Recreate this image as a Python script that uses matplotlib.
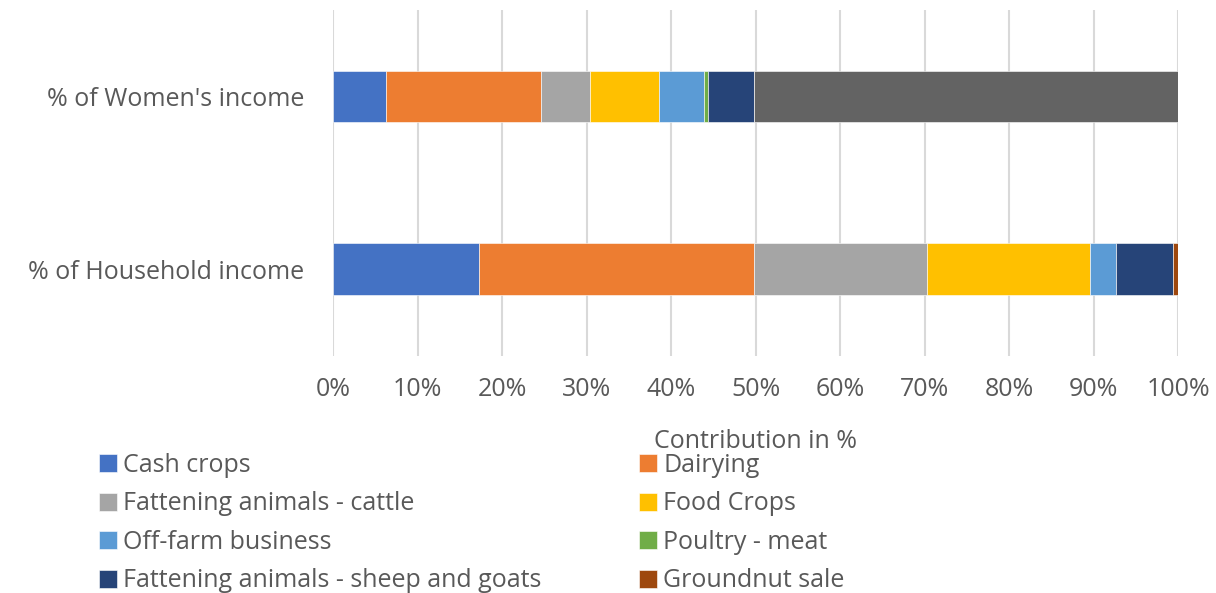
import numpy as np
import matplotlib.pyplot as plt
from matplotlib.ticker import PercentFormatter

plt.rcParams['font.family'] = ['Open Sans', 'DejaVu Sans']

# === Data (percent contribution) ===
groups = ["% of Household income", "% of Women's income"]
series = ["Cash crops", "Dairying", "Fattening animals - cattle", "Food Crops",
          "Off-farm business", "Poultry - meat", "Fattening animals - sheep and goats",
          "Groundnut sale", "Other"]
household = [17.3, 32.5, 20.5, 19.3, 3.0, 0.0, 6.8, 0.6, 0.0]
women = [6.2, 18.4, 5.8, 8.1, 5.4, 0.4, 5.5, 0.0, 50.2]
colors = ['#4472C4', '#ED7D31', '#A5A5A5', '#FFC000', '#5B9BD5',
          '#70AD47', '#264478', '#9E480E', '#636363']

txt = '#595959'
fs = 18
fig = plt.figure(figsize=(12.16, 5.93), dpi=100)
ax = fig.add_axes([0.274, 0.40, 0.695, 0.583])

values = np.array([household, women])
y = np.arange(len(groups))
left = np.zeros(len(groups))
handles = []
for i, name in enumerate(series):
    b = ax.barh(y, values[:, i], left=left, height=0.3, color=colors[i],
                edgecolor='white', linewidth=0.4, label=name, zorder=3)
    handles.append(b)
    left += values[:, i]

ax.set_xlim(0, 100)
ax.set_ylim(-0.5, 1.5)
ax.set_xticks(np.arange(0, 101, 10))
ax.xaxis.set_major_formatter(PercentFormatter(decimals=0))
ax.set_yticks(y)
ax.set_yticklabels(groups)
ax.grid(axis='x', color='#d9d9d9', linewidth=1.5, zorder=0)
for s in ax.spines.values():
    s.set_visible(False)
ax.tick_params(axis='both', length=0, labelsize=fs, colors=txt)
ax.tick_params(axis='x', pad=15)
ax.tick_params(axis='y', pad=21)
ax.set_xlabel('Contribution in %', fontsize=fs, color=txt, labelpad=20)

# legend: row-major order like the original (first 8 series)
order = [0, 2, 4, 6, 1, 3, 5, 7]
leg = fig.legend([handles[i] for i in order], [series[i] for i in order],
                 loc='upper left', bbox_to_anchor=(0.073, 0.253), ncol=2,
                 frameon=False, fontsize=fs, handlelength=0.72, handleheight=0.72,
                 handletextpad=0.25, columnspacing=3.9, labelspacing=0.54,
                 borderaxespad=0)
for t in leg.get_texts():
    t.set_color(txt)

fig.savefig('out.png', dpi=100)
